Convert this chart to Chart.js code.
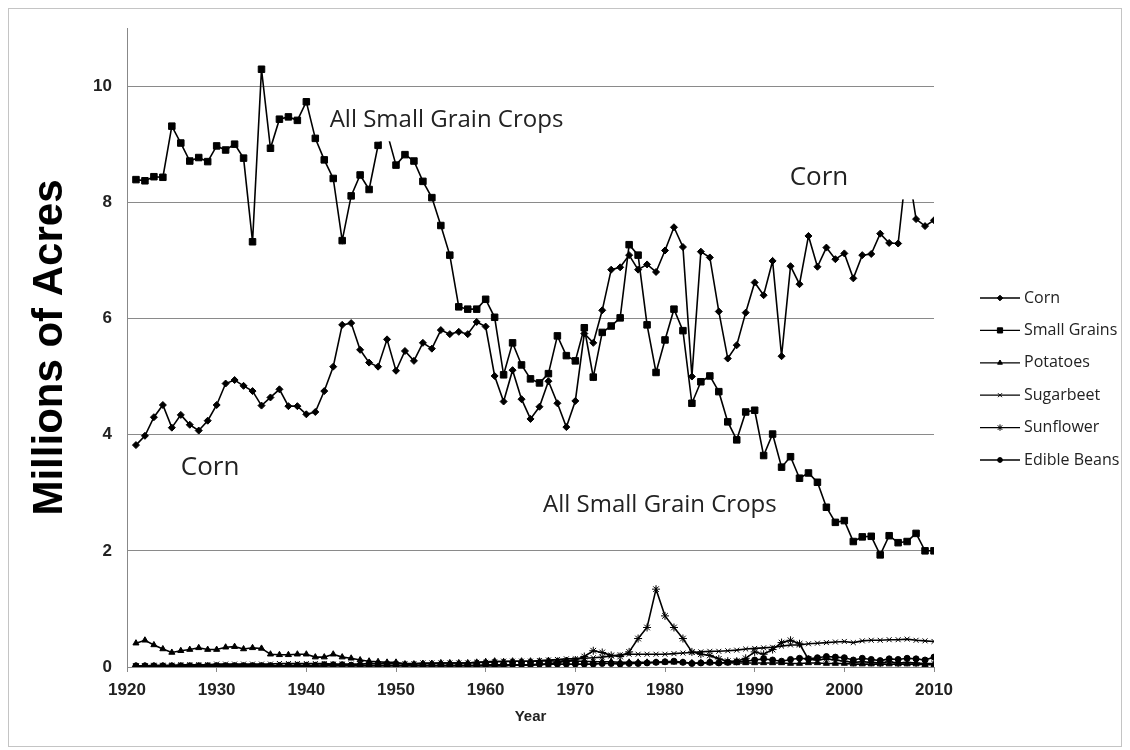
<!DOCTYPE html>
<html>
<head>
<meta charset="utf-8">
<script src="https://cdn.jsdelivr.net/npm/chart.js"></script>
<style>
  html, body { margin: 0; padding: 0; background: #fff; }
  #wrap { position: relative; width: 1130px; height: 750px; }
</style>
</head>
<body>
<div id="wrap"><canvas id="acres"></canvas></div>
<script>
// acreage, millions of acres, 1921-2010
const years = [1921,1922,1923,1924,1925,1926,1927,1928,1929,1930,
  1931,1932,1933,1934,1935,1936,1937,1938,1939,1940,
  1941,1942,1943,1944,1945,1946,1947,1948,1949,1950,
  1951,1952,1953,1954,1955,1956,1957,1958,1959,1960,
  1961,1962,1963,1964,1965,1966,1967,1968,1969,1970,
  1971,1972,1973,1974,1975,1976,1977,1978,1979,1980,
  1981,1982,1983,1984,1985,1986,1987,1988,1989,1990,
  1991,1992,1993,1994,1995,1996,1997,1998,1999,2000,
  2001,2002,2003,2004,2005,2006,2007,2008,2009,2010];

const corn = [3.82,3.98,4.30,4.51,4.12,4.34,4.17,4.07,4.24,4.51,
  4.88,4.94,4.84,4.75,4.50,4.64,4.78,4.49,4.49,4.35,
  4.39,4.75,5.17,5.89,5.92,5.46,5.24,5.17,5.64,5.10,
  5.44,5.27,5.58,5.48,5.80,5.73,5.77,5.73,5.94,5.86,
  5.01,4.57,5.11,4.61,4.27,4.48,4.92,4.54,4.13,4.58,
  5.74,5.58,6.14,6.84,6.88,7.09,6.84,6.93,6.80,7.17,
  7.57,7.23,5.00,7.15,7.05,6.12,5.31,5.54,6.10,6.62,
  6.40,6.99,5.35,6.90,6.59,7.42,6.89,7.22,7.02,7.12,
  6.69,7.09,7.11,7.46,7.30,7.29,8.70,7.71,7.59,7.69];

const smallGrains = [8.39,8.37,8.44,8.43,9.31,9.02,8.71,8.77,8.70,8.97,
  8.90,9.00,8.76,7.32,10.29,8.93,9.43,9.47,9.41,9.73,
  9.10,8.73,8.41,7.34,8.11,8.47,8.22,8.98,9.20,8.64,
  8.82,8.71,8.36,8.08,7.60,7.09,6.20,6.16,6.16,6.33,
  6.02,5.03,5.58,5.20,4.96,4.89,5.05,5.70,5.36,5.27,
  5.84,4.99,5.76,5.87,6.01,7.27,7.09,5.89,5.07,5.63,
  6.16,5.79,4.54,4.91,5.01,4.74,4.22,3.91,4.39,4.42,
  3.64,4.01,3.44,3.62,3.25,3.34,3.18,2.75,2.49,2.52,
  2.16,2.24,2.25,1.93,2.26,2.14,2.16,2.30,2.00,2.00];

const potatoes = [0.41,0.46,0.38,0.31,0.25,0.28,0.30,0.33,0.30,0.30,
  0.34,0.35,0.31,0.33,0.32,0.22,0.21,0.21,0.22,0.22,
  0.17,0.17,0.22,0.17,0.15,0.12,0.10,0.09,0.08,0.08,
  0.05,0.05,0.06,0.06,0.07,0.07,0.07,0.07,0.08,0.09,
  0.10,0.09,0.10,0.10,0.10,0.10,0.11,0.10,0.11,0.10,
  0.10,0.09,0.09,0.09,0.08,0.08,0.08,0.08,0.08,0.08,
  0.08,0.08,0.07,0.07,0.07,0.07,0.07,0.07,0.07,0.07,
  0.07,0.07,0.07,0.06,0.06,0.07,0.07,0.06,0.06,0.06,
  0.05,0.05,0.05,0.05,0.05,0.05,0.05,0.05,0.04,0.04];

const sugarbeet = [0.02,0.02,0.03,0.03,0.03,0.04,0.04,0.04,0.04,0.05,
  0.05,0.05,0.05,0.05,0.05,0.05,0.06,0.06,0.06,0.06,
  0.06,0.06,0.05,0.05,0.05,0.05,0.06,0.06,0.06,0.06,
  0.06,0.06,0.07,0.07,0.07,0.07,0.07,0.07,0.08,0.08,
  0.09,0.10,0.10,0.10,0.10,0.11,0.12,0.13,0.14,0.14,
  0.15,0.16,0.17,0.19,0.21,0.22,0.22,0.22,0.22,0.22,
  0.23,0.24,0.25,0.26,0.27,0.27,0.28,0.29,0.31,0.32,
  0.33,0.34,0.36,0.38,0.38,0.40,0.41,0.42,0.43,0.44,
  0.42,0.45,0.46,0.46,0.47,0.47,0.48,0.46,0.45,0.44];

const sunflower = [0.01,0.01,0.01,0.01,0.01,0.01,0.01,0.01,0.01,0.01,
  0.01,0.01,0.01,0.01,0.01,0.01,0.01,0.01,0.01,0.01,
  0.01,0.02,0.02,0.02,0.02,0.02,0.02,0.02,0.02,0.02,
  0.02,0.02,0.02,0.02,0.02,0.02,0.02,0.02,0.02,0.02,
  0.02,0.02,0.03,0.03,0.03,0.04,0.05,0.08,0.10,0.12,
  0.18,0.28,0.25,0.20,0.18,0.26,0.49,0.68,1.34,0.88,
  0.68,0.49,0.26,0.22,0.20,0.14,0.10,0.10,0.15,0.26,
  0.22,0.30,0.42,0.46,0.40,0.13,0.12,0.14,0.12,0.10,
  0.08,0.09,0.08,0.07,0.09,0.07,0.08,0.07,0.06,0.06];

const edibleBeans = [0.02,0.02,0.02,0.02,0.02,0.02,0.02,0.02,0.02,0.02,
  0.02,0.02,0.02,0.02,0.02,0.02,0.02,0.03,0.03,0.03,
  0.03,0.04,0.04,0.04,0.03,0.03,0.03,0.03,0.03,0.03,
  0.03,0.03,0.03,0.03,0.03,0.03,0.03,0.03,0.03,0.04,
  0.04,0.04,0.04,0.04,0.04,0.05,0.05,0.05,0.05,0.05,
  0.05,0.05,0.06,0.06,0.05,0.06,0.06,0.07,0.08,0.09,
  0.10,0.08,0.06,0.07,0.08,0.07,0.08,0.09,0.10,0.12,
  0.14,0.12,0.10,0.13,0.15,0.14,0.16,0.18,0.17,0.16,
  0.12,0.15,0.13,0.11,0.14,0.13,0.15,0.14,0.12,0.17];

const yTicks = [0, 2, 4, 6, 8, 10];

function series(label, values, style, radius) {
  return {
    label: label,
    data: values.map((v, i) => ({ x: years[i], y: v })),
    borderColor: '#000',
    backgroundColor: '#000',
    borderWidth: 1.6,
    pointStyle: style,
    pointRadius: radius,
    pointBorderWidth: 1,
    pointBackgroundColor: '#000',
    pointBorderColor: '#000',
    tension: 0
  };
}

// white-boxed text labels placed in data units
const notes = [
  { text: 'All Small Grain Crops', x: 1942.6, y: 9.41, size: 24, box: [1942.2, 1969.8, 9.05, 9.82] },
  { text: 'Corn', x: 1993.9, y: 8.43, size: 26, box: [1990.5, 2007.8, 8.05, 8.85] },
  { text: 'Corn', x: 1926.0, y: 3.44, size: 26 },
  { text: 'All Small Grain Crops', x: 1966.4, y: 2.79, size: 24 }
];

const frame = {
  id: 'frame',
  beforeDraw(chart) {
    const c = chart.ctx;
    c.save();
    c.fillStyle = '#fff';
    c.fillRect(0, 0, chart.width, chart.height);
    c.strokeStyle = '#c4c4c4';
    c.lineWidth = 1;
    c.strokeRect(8.5, 8.5, chart.width - 17, chart.height - 12);
    c.restore();
  }
};

const noteText = {
  id: 'noteText',
  afterDatasetsDraw(chart) {
    const c = chart.ctx, xs = chart.scales.x, ys = chart.scales.y;
    c.save();
    notes.forEach(n => {
      if (n.box) {
        const x0 = xs.getPixelForValue(n.box[0]), x1 = xs.getPixelForValue(n.box[1]);
        const y0 = ys.getPixelForValue(n.box[3]), y1 = ys.getPixelForValue(n.box[2]);
        c.fillStyle = '#fff';
        c.fillRect(x0, y0, x1 - x0, y1 - y0);
      }
      c.fillStyle = '#222';
      c.font = n.size + 'px "Open Sans"';
      c.textAlign = 'left';
      c.textBaseline = 'middle';
      c.fillText(n.text, xs.getPixelForValue(n.x), ys.getPixelForValue(n.y));
    });
    c.restore();
  }
};

const sideLegend = {
  id: 'sideLegend',
  afterDraw(chart) {
    const c = chart.ctx, h = Chart.helpers;
    chart.data.datasets.forEach((ds, i) => {
      const y = 298 + i * 32.4;
      c.save();
      c.strokeStyle = '#000';
      c.lineWidth = 1.3;
      c.beginPath();
      c.moveTo(980, y);
      c.lineTo(1020, y);
      c.stroke();
      c.fillStyle = '#000';
      c.lineWidth = 1;
      h.drawPoint(c, { pointStyle: ds.pointStyle, radius: ds.pointRadius * 0.8, rotation: 0, borderWidth: 1 }, 1000, y);
      c.fillStyle = '#222';
      c.font = '16px "Open Sans"';
      c.textAlign = 'left';
      c.textBaseline = 'middle';
      c.fillText(ds.label, 1024, y);
      c.restore();
    });
  }
};

new Chart(document.getElementById('acres'), {
  type: 'line',
  data: {
    datasets: [
      series('Corn', corn, 'rectRot', 3.5),
      series('Small Grains', smallGrains, 'rect', 4.6),
      series('Potatoes', potatoes, 'triangle', 3.5),
      series('Sugarbeet', sugarbeet, 'crossRot', 3.5),
      series('Sunflower', sunflower, 'star', 4),
      series('Edible Beans', edibleBeans, 'circle', 3)
    ]
  },
  options: {
    responsive: true,
    maintainAspectRatio: false,
    animation: false,
    layout: { padding: { top: 28, right: 196, left: 0, bottom: 0 } },
    plugins: { legend: { display: false }, tooltip: { enabled: false } },
    scales: {
      x: {
        type: 'linear',
        min: 1920,
        max: 2010,
        afterFit(scale) { scale.height = 83; },
        ticks: {
          stepSize: 10,
          color: '#222',
          padding: 8,
          font: { family: 'Liberation Sans', size: 17, weight: 'bold' },
          callback: v => String(v)
        },
        grid: { drawOnChartArea: false, tickLength: 5, color: '#888' },
        border: { color: '#888' },
        title: {
          display: true,
          text: 'Year',
          color: '#222',
          padding: { bottom: 24 },
          font: { family: 'Liberation Sans', size: 15, weight: 'bold' }
        }
      },
      y: {
        min: 0,
        max: 11,
        afterFit(scale) { scale.width = 127; },
        afterBuildTicks(scale) { scale.ticks = yTicks.map(v => ({ value: v })); },
        ticks: {
          color: '#222',
          padding: 15,
          font: { family: 'Liberation Sans', size: 17, weight: 'bold' }
        },
        grid: { color: '#8a8a8a', drawTicks: false },
        border: { color: '#888' },
        title: {
          display: true,
          text: 'Millions of Acres',
          color: '#000',
          padding: { top: 25 },
          font: { family: 'Liberation Sans', size: 42, weight: 'bold' }
        }
      }
    }
  },
  plugins: [frame, noteText, sideLegend]
});
</script>
</body>
</html>
